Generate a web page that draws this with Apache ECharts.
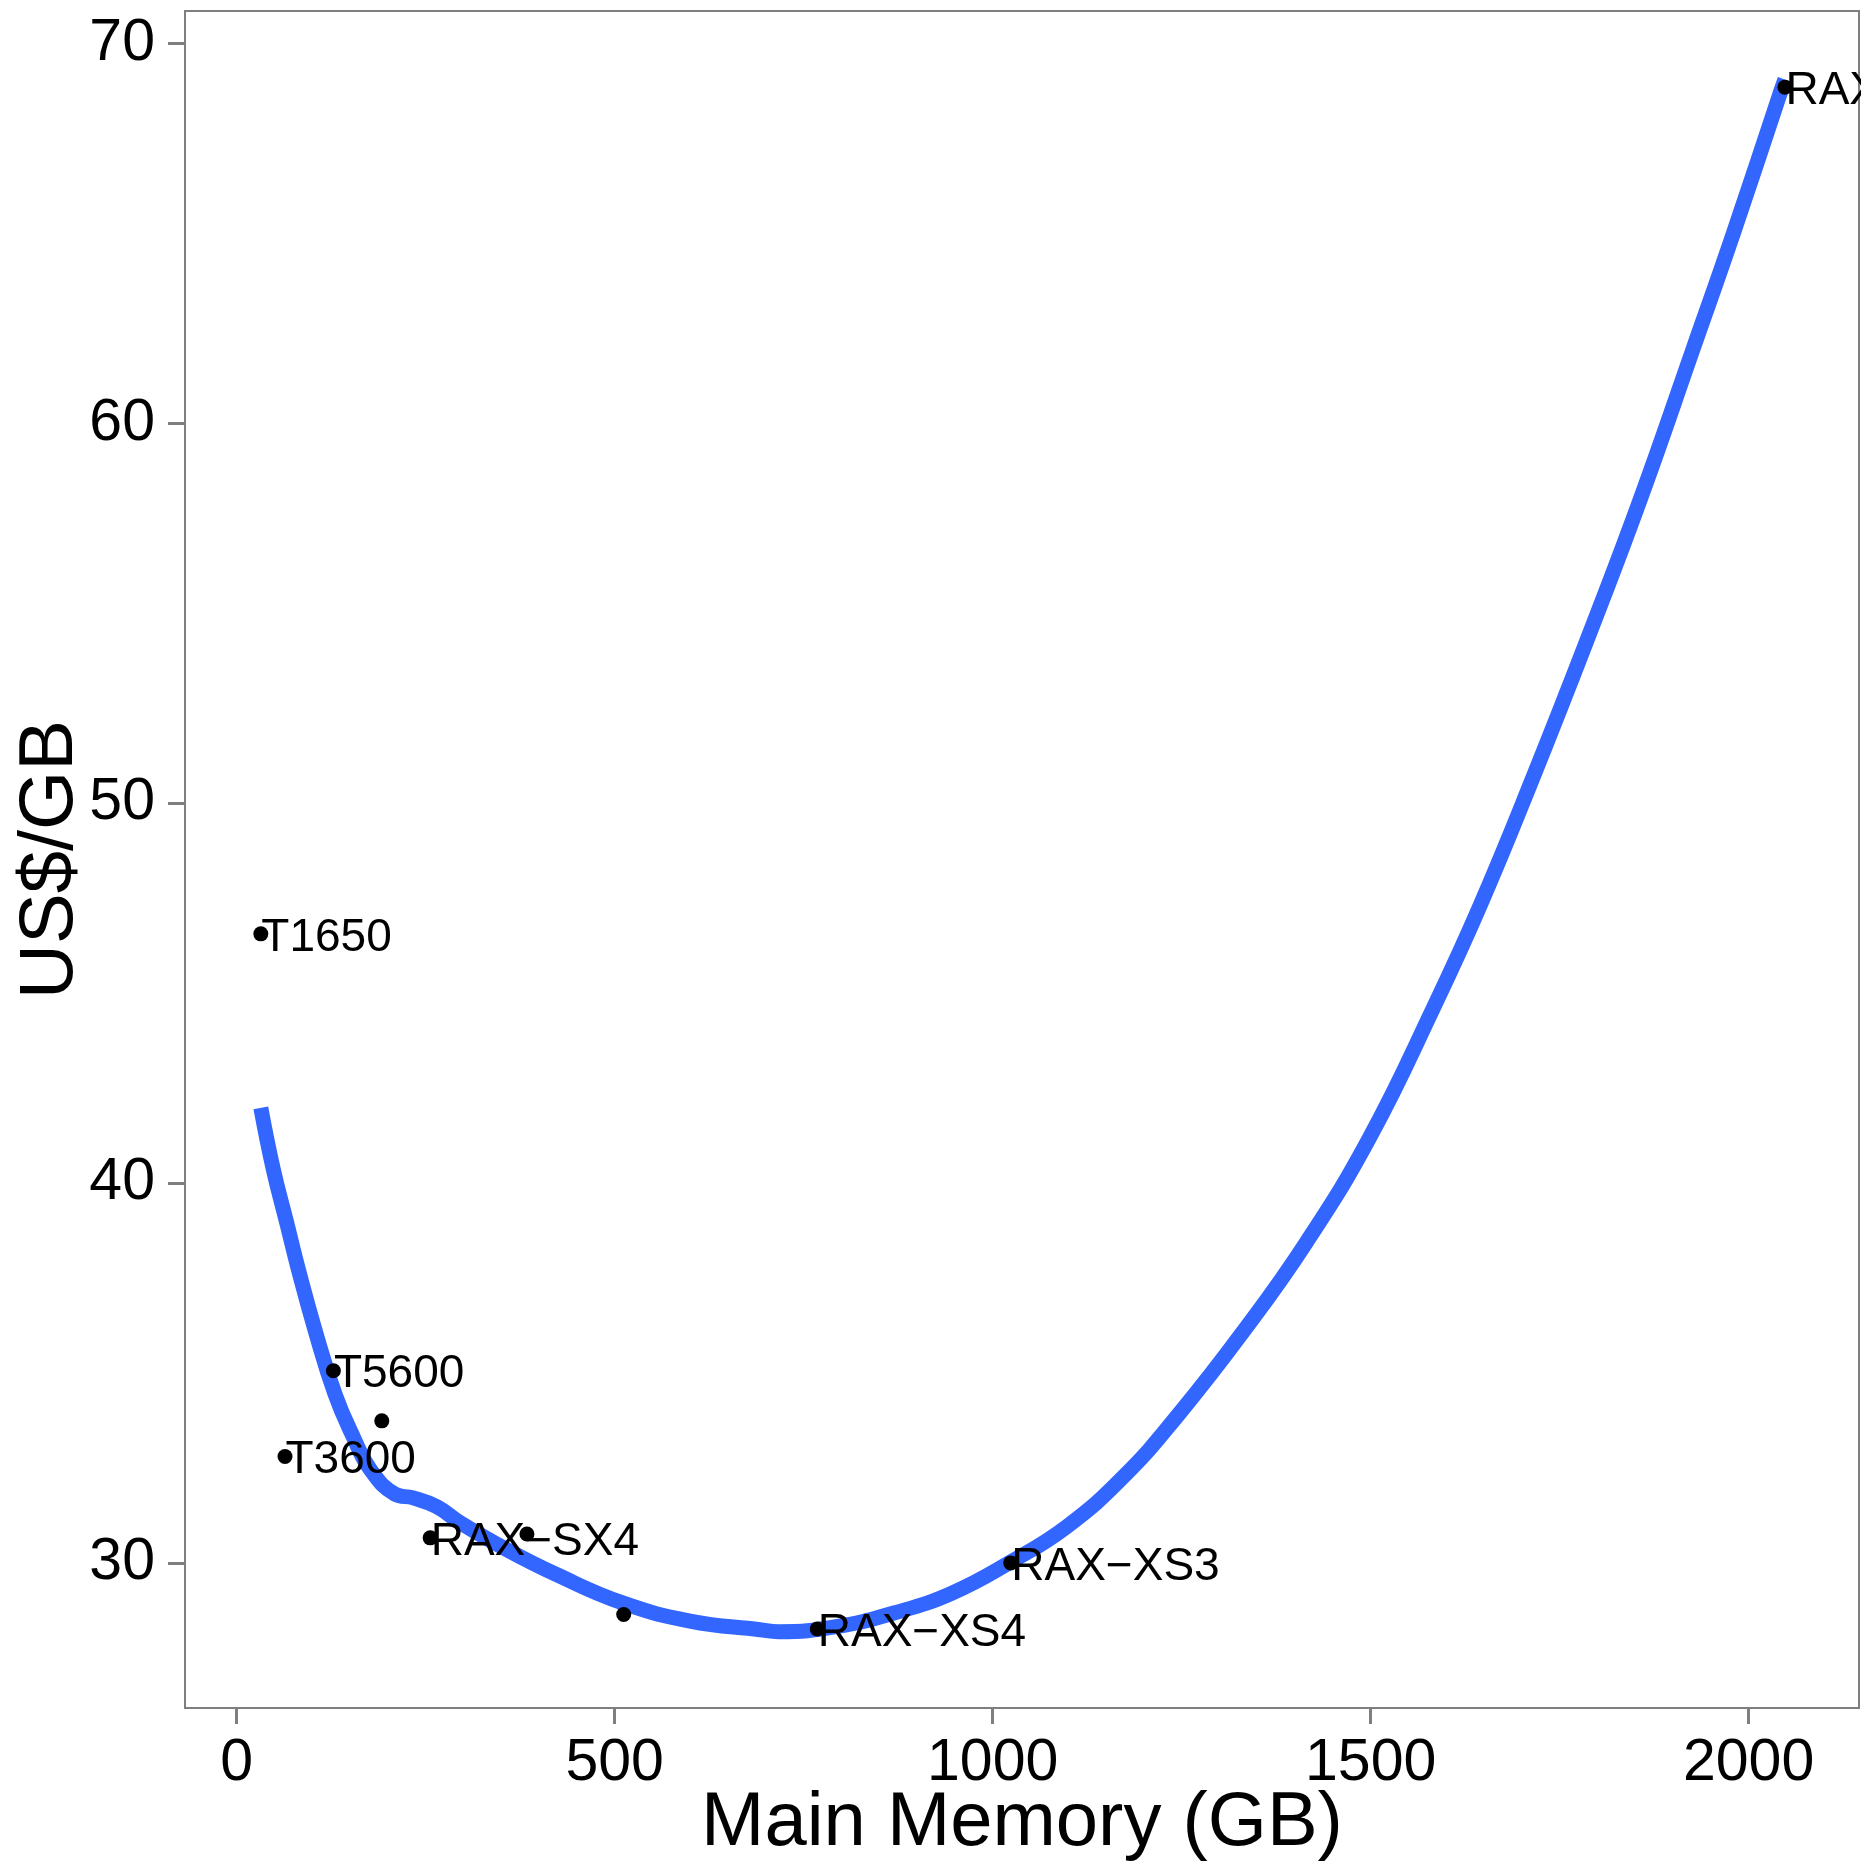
<!DOCTYPE html>
<html><head><meta charset="utf-8">
<script src="https://cdn.jsdelivr.net/npm/echarts@6/dist/echarts.min.js"></script>
<style>html,body{margin:0;padding:0;background:#fff}#c{width:1867px;height:1868px}</style>
</head><body><div id="c"></div>
<script>
// Data points (Main memory in GB vs price in US$/GB)
const memoryGB = [32, 64, 128, 192, 256, 384, 512, 768, 1024, 2048];
const usdPerGB = [46.56, 32.80, 35.06, 33.74, 30.66, 30.76, 28.64, 28.26, 30.0, 68.85];
const modelNames = ['T1650', 'T3600', 'T5600', '', 'RAX\u2212SX4', '', '', 'RAX\u2212XS4', 'RAX\u2212XS3', 'RAX'];
// Smoothed fit curve
const smoothX = [32, 48.5, 66.3, 81.6, 103.7, 130.2, 154.4, 176.5, 209.5, 233.7, 264.7, 295.5, 357.3, 423.4, 511.5, 599.7, 692.3, 716.8, 792.9, 869.3, 945.6, 1024.3, 1098.4, 1174.6, 1246, 1330, 1415, 1499, 1583, 1644.7, 1715.2, 1785.8, 1856.3, 1926.9, 1979.8, 2041.5, 2048];
const smoothY = [41.98, 40.36, 38.95, 37.73, 36.13, 34.44, 33.31, 32.47, 31.81, 31.71, 31.48, 31.06, 30.35, 29.69, 28.94, 28.47, 28.24, 28.19, 28.32, 28.68, 29.20, 30.03, 30.96, 32.30, 33.91, 36.05, 38.44, 41.21, 44.61, 47.30, 50.70, 54.27, 57.98, 61.98, 65.00, 68.68, 69.05];
// Tick labels
const xTicks = [0, 500, 1000, 1500, 2000];
const yTicks = [30, 40, 50, 60, 70];

const FONT = '"Liberation Sans", Arial, Helvetica, sans-serif';
const GREY = '#7f7f7f';

const chart = echarts.init(document.getElementById('c'), null, {renderer: 'canvas'});
const scatterData = memoryGB.map((x, i) => [x, usdPerGB[i], modelNames[i]]);
const lineData = smoothX.map((x, i) => [x, smoothY[i]]);

chart.setOption({
  animation: false,
  backgroundColor: '#ffffff',
  textStyle: {fontFamily: FONT},
  grid: {left: 185, right: 8, top: 11, bottom: 160, show: true, borderColor: GREY, borderWidth: 2,
         backgroundColor: '#fff', containLabel: false, outerBoundsMode: 'none'},
  xAxis: {
    type: 'value', min: -68.3, max: 2146,
    axisLine: {show: false, onZero: false},
    splitLine: {show: false},
    axisTick: {show: true, length: 16, lineStyle: {color: GREY, width: 3}, customValues: xTicks},
    axisLabel: {customValues: xTicks, fontSize: 59, color: '#000', margin: 26, fontFamily: FONT,
                formatter: v => String(v)},
    name: 'Main Memory (GB)', nameLocation: 'middle', nameGap: 78, nameMoveOverlap: false,
    nameTextStyle: {fontSize: 76, color: '#000', fontFamily: FONT}
  },
  yAxis: {
    type: 'value', min: 26.18, max: 70.855,
    axisLine: {show: false, onZero: false},
    splitLine: {show: false},
    axisTick: {show: true, length: 17, lineStyle: {color: GREY, width: 3}, customValues: yTicks},
    axisLabel: {customValues: yTicks, fontSize: 59, color: '#000', margin: 30, fontFamily: FONT,
                formatter: v => String(v)},
    name: 'US$/GB', nameLocation: 'middle', nameGap: 96, nameRotate: 90, nameMoveOverlap: false,
    nameTextStyle: {fontSize: 76, color: '#000', fontFamily: FONT}
  },
  series: [
    {
      type: 'line', data: lineData, showSymbol: false, symbol: 'none',
      smooth: 0.45, z: 1,
      lineStyle: {color: '#3366FF', width: 15, cap: 'butt', opacity: 1}
    },
    {
      type: 'scatter', data: scatterData, symbol: 'circle', symbolSize: 15, z: 3,
      itemStyle: {color: '#000', opacity: 1},
      label: {
        show: true, position: 'right', distance: -7, offset: [0, 4],
        formatter: p => p.value[2],
        fontSize: 46, color: '#000', opacity: 1, fontFamily: FONT
      }
    }
  ],
  graphic: [
    {type: 'rect', left: 1861, top: 0, shape: {width: 10, height: 1868}, style: {fill: '#fff'}, z: 100}
  ]
});
</script>
</body></html>
